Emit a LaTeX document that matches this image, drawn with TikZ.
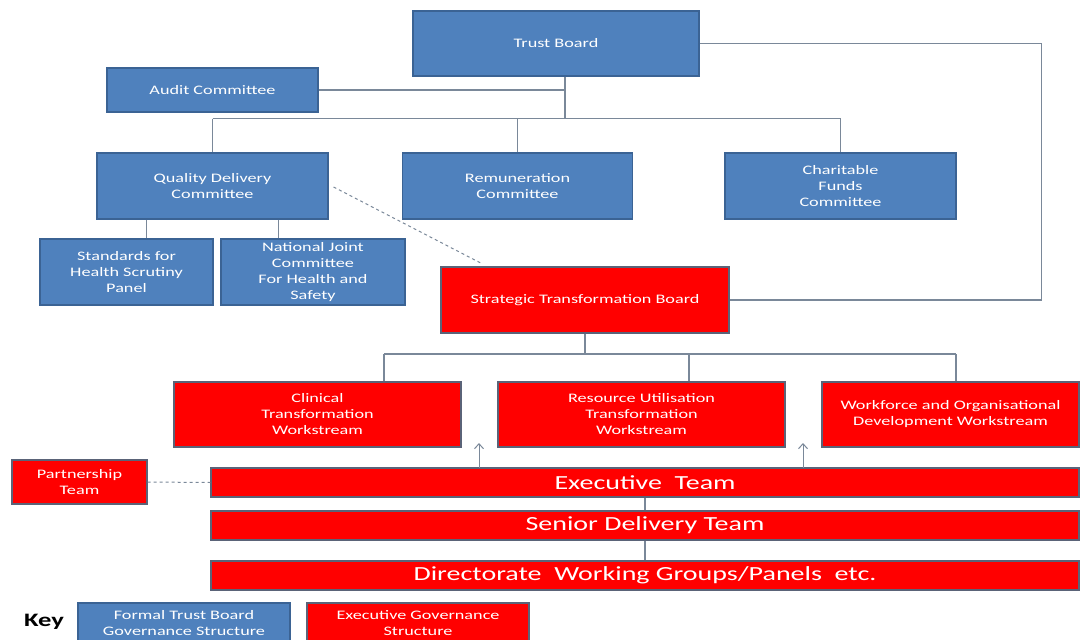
\documentclass[tikz,border=0pt]{standalone}
\usepackage{fontspec}
\setmainfont{Carlito}[FakeStretch=1.4]
\usetikzlibrary{calc,arrows.meta}
\definecolor{boxblue}{HTML}{4F81BD}
\definecolor{blueedge}{HTML}{3B6394}
\definecolor{boxred}{HTML}{FF0000}
\definecolor{rededge}{HTML}{5A6378}
\definecolor{linecol}{HTML}{7A8899}
\begin{document}
\begin{tikzpicture}[x=1pt,y=-1pt,
  basebox/.style={rectangle, line width=1.2pt, text=white, align=center, inner sep=0pt,
    font=\fontsize{13}{16}\selectfont},
  bluebox/.style={basebox, fill=boxblue, draw=blueedge},
  redbox/.style={basebox, fill=boxred, draw=rededge},
  bigtext/.style={font=\fontsize{20}{24}\selectfont},
  conn/.style={draw=linecol, line width=1.3pt},
  dashconn/.style={draw=linecol, line width=1pt, dashed, dash pattern=on 3pt off 3pt},
  uparrow/.style={draw=linecol, line width=1pt, -{Straight Barb[length=5pt,width=9pt,line width=1pt]}}
]
\useasboundingbox (0,0) rectangle (1082,640);
\fill[white] (0,0) rectangle (1082,640);

% blue boxes
\node[bluebox, minimum width=286pt, minimum height=65pt] (tb) at (556,43.5) {Trust Board};
\node[bluebox, minimum width=211pt, minimum height=44pt] (audit) at (212.5,90) {Audit Committee};
\node[bluebox, minimum width=231pt, minimum height=66pt] (qdc) at (212.5,186) {Quality Delivery\\Committee};
\node[bluebox, minimum width=230pt, minimum height=66pt] (rem) at (517.5,186) {Remuneration\\Committee};
\node[bluebox, minimum width=231pt, minimum height=66pt] (char) at (840.5,186) {Charitable\\Funds\\Committee};
\node[bluebox, minimum width=173pt, minimum height=66pt] (std) at (126.5,272) {Standards for\\Health Scrutiny\\Panel};
\node[bluebox, minimum width=184pt, minimum height=66pt] (nj) at (313,272) {National Joint\\Committee\\For Health and\\Safety};

% red boxes
\node[redbox, minimum width=288pt, minimum height=66pt] (stb) at (585,300) {Strategic Transformation Board};
\node[redbox, minimum width=287pt, minimum height=65pt] (clin) at (317.5,414.5) {Clinical\\Transformation\\Workstream};
\node[redbox, minimum width=287pt, minimum height=65pt] (res) at (641.5,414.5) {Resource Utilisation\\Transformation\\Workstream};
\node[redbox, minimum width=257pt, minimum height=65pt] (wf) at (950.5,414.5) {Workforce and Organisational\\Development Workstream};
\node[redbox, minimum width=135pt, minimum height=44pt] (part) at (79.5,482) {Partnership\\Team};
\node[redbox, bigtext, minimum width=868pt, minimum height=29pt] (exec) at (645,482.5) {Executive~~Team};
\node[redbox, bigtext, minimum width=868pt, minimum height=29pt] (sdt) at (645,525.5) {Senior Delivery Team};
\node[redbox, bigtext, minimum width=868pt, minimum height=29pt] (dir) at (645,575.5) {Directorate~~Working Groups/Panels~~etc.};

% key
\node[font=\fontsize{19}{21}\selectfont\bfseries, text=black] (key) at (44,622) {Key};
\node[bluebox, minimum width=212pt, minimum height=40pt] (kblue) at (184,623) {Formal Trust Board\\Governance Structure};
\node[redbox, minimum width=222pt, minimum height=40pt] (kred) at (418,623) {Executive Governance\\Structure};

% connectors: trust board tree
\coordinate (tbdrop) at ($(tb.south)+(9,0)$);
\coordinate (tbbus) at ($(tbdrop)+(0,42)$);
\draw[conn] (tbdrop) -- (tbbus);
\draw[conn] (audit.east) -- (audit.east -| tbdrop);
\draw[conn] (qdc.north |- tbbus) -- (char.north |- tbbus);
\draw[conn] (qdc.north |- tbbus) -- (qdc.north);
\draw[conn] (rem.north |- tbbus) -- (rem.north);
\draw[conn] (char.north |- tbbus) -- (char.north);

% quality delivery children
\coordinate (qs1) at ($(qdc.south west)+(50,0)$);
\coordinate (qs2) at ($(qdc.south west)+(182,0)$);
\draw[conn] (qs1) -- (qs1 |- std.north);
\draw[conn] (qs2) -- (qs2 |- nj.north);

% dashed link quality -> strategic
\coordinate (qdash) at ($(qdc.east)+(5,1)$);
\coordinate (sdash) at ($(stb.north west)+(41,-3)$);
\draw[dashconn] (qdash) -- (sdash);

% strategic -> trust board loop
\draw[conn] (stb.east) -- ++(312,0) |- (tb.east);

% strategic tree
\coordinate (sbus) at ($(stb.south)+(0,21)$);
\coordinate (c1) at (384,354);
\coordinate (c2) at (689,354);
\coordinate (c3) at (956,354);
\draw[conn] (stb.south) -- (sbus);
\draw[conn] (c1) -- (c3);
\draw[conn] (c1) -- (c1 |- clin.north);
\draw[conn] (c2) -- (c2 |- res.north);
\draw[conn] (c3) -- (c3 |- wf.north);

% arrows from executive team
\coordinate (a1) at (479,468);
\coordinate (a1t) at (479,443);
\coordinate (a2) at (803,468);
\coordinate (a2t) at (803,443);
\draw[uparrow] (a1) -- (a1t);
\draw[uparrow] (a2) -- (a2t);

% executive chain
\draw[conn] (exec.south) -- (sdt.north);
\draw[conn] (sdt.south) -- (dir.north);

% partnership
\draw[dashconn] (part.east) -- (exec.west);
\end{tikzpicture}
\end{document}
